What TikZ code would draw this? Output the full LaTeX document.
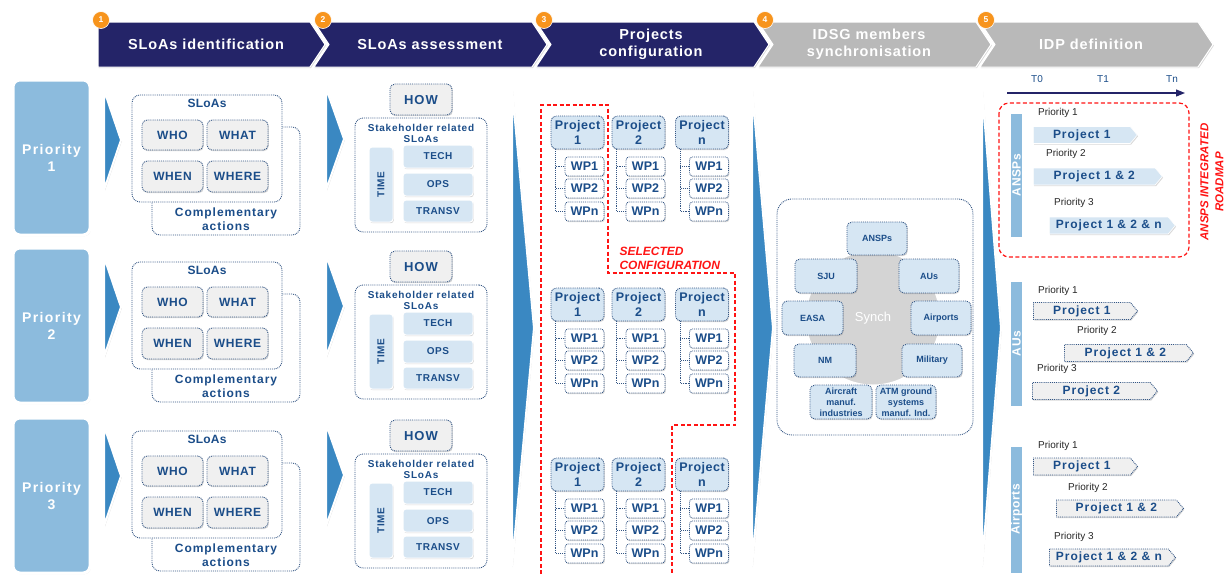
\documentclass[tikz,border=0pt]{standalone}
\usepackage{fontspec}
\setmainfont{Liberation Sans}
\usepackage{tikz}
\usetikzlibrary{calc, shadows, shapes.symbols, arrows.meta}

\definecolor{hdrnavy}{RGB}{36,36,104}
\definecolor{hdrgrey}{RGB}{185,185,185}
\definecolor{numorange}{RGB}{247,148,29}
\definecolor{prioblue}{RGB}{140,187,221}
\definecolor{triblue}{RGB}{58,136,194}
\definecolor{txtblue}{RGB}{27,77,137}
\definecolor{dotblue}{RGB}{52,86,132}
\definecolor{boxgrey}{RGB}{240,240,240}
\definecolor{boxblue}{RGB}{214,230,243}
\definecolor{synchgrey}{RGB}{212,212,212}
\definecolor{selred}{RGB}{255,20,20}

\newcommand{\fsz}[2]{\fontsize{#1}{#2}\selectfont}
\newcommand{\lsp}[1]{\addfontfeature{LetterSpace=#1}}

\begin{document}
\begin{tikzpicture}[x=1pt, y=-1pt,
	boxshadow/.style={drop shadow={opacity=0.3, shadow xshift=0.8pt, shadow yshift=-1.2pt}},
	chev/.style={draw=white, line width=1pt, boxshadow},
	chevtxt/.style={text=white, align=center, font=\fsz{14.5}{17}\bfseries\lsp{6}},
	stepnum/.style={circle, fill=numorange, draw=white, line width=0.6pt, text=white, inner sep=0pt, minimum size=17pt, font=\fsz{8.5}{9}\bfseries},
	prio/.style={rectangle, rounded corners=7pt, fill=prioblue, draw=white, line width=3pt, minimum width=77pt, minimum height=155pt, text=white, align=center, font=\fsz{14}{17}\bfseries\lsp{10}, boxshadow},
	pointer/.style={fill=triblue, draw=white, line width=2pt, line join=miter, boxshadow},
	frame/.style={rectangle, rounded corners=8pt, fill=white, draw=dotblue, densely dotted, line width=0.9pt},
	frametxt/.style={text=txtblue, align=center, font=\fsz{12}{14}\bfseries\lsp{8}},
	greybox/.style={rectangle, rounded corners=5pt, fill=boxgrey, draw=dotblue, densely dotted, line width=0.9pt, text=txtblue, inner sep=0pt, font=\fsz{12}{14}\bfseries\lsp{5}, boxshadow},
	bluebox/.style={rectangle, rounded corners=3pt, fill=boxblue, draw=white, line width=1pt, text=txtblue, inner sep=0pt, font=\fsz{10}{12}\bfseries\lsp{5}, boxshadow},
	prjbox/.style={rectangle, rounded corners=5pt, fill=boxblue, draw=dotblue, densely dotted, line width=0.9pt, text=txtblue, align=center, inner sep=0pt, minimum width=53pt, minimum height=33pt, font=\fsz{12.5}{14.5}\bfseries\lsp{4}, boxshadow},
	wpbox/.style={rectangle, rounded corners=3pt, fill=white, draw=dotblue, densely dotted, line width=0.9pt, text=txtblue, inner sep=0pt, minimum width=39pt, minimum height=19pt, font=\fsz{12.5}{14}\bfseries, boxshadow},
	tree/.style={draw=dotblue, densely dotted, line width=0.9pt},
	actor/.style={rectangle, rounded corners=5pt, fill=boxblue, draw=dotblue, densely dotted, line width=0.9pt, text=txtblue, align=center, inner sep=0pt, minimum height=34pt, font=\fsz{9}{11}\bfseries, boxshadow},
	selline/.style={draw=selred, dash pattern=on 4pt off 2.5pt, line width=1.2pt},
	seltxt/.style={text=selred, align=left, font=\fsz{12}{14}\bfseries\itshape},
	bar/.style={rectangle, fill=prioblue, draw=white, line width=3pt, rotate=90, minimum height=14pt, inner sep=0pt, text=white, font=\fsz{12}{13}\bfseries\lsp{5}, boxshadow},
	plain/.style={anchor=west, inner sep=0pt, text=black!85, font=\fsz{10}{12}},
	roadarrow/.style={signal, signal to=east, signal pointer angle=100, anchor=west, inner sep=0pt, minimum height=17pt, text=txtblue, font=\fsz{12}{14}\bfseries\lsp{8}, boxshadow},
	solidarrow/.style={roadarrow, fill=boxblue, draw=white, line width=0.6pt},
	dotarrow/.style={roadarrow, fill=boxgrey, draw=dotblue, densely dotted, line width=0.9pt}]

	\useasboundingbox (0,0) rectangle (1224,574);

	\def\yt{22}
	\def\yb{67}
	\def\ym{44.5}
	\def\tp{15}

	% header steps
	\path[fill=hdrnavy, chev] (98,\yt) -- (310,\yt) -- (310+\tp,\ym) -- (310,\yb) -- (98,\yb) -- cycle;
	\foreach \xa/\xb/\col in {314/532/hdrnavy, 536/754/hdrnavy, 758/976/hdrgrey, 980/1198/hdrgrey}
	{
		\path[fill=\col, chev] (\xa,\yt) -- (\xb,\yt) -- (\xb+\tp,\ym) -- (\xb,\yb) -- (\xa,\yb) -- (\xa+\tp,\ym) -- cycle;
	}
	\node[chevtxt] (hdr1) at (206,\ym) {SLoAs identification};
	\node[chevtxt] (hdr2) at (430,\ym) {SLoAs assessment};
	\node[chevtxt] (hdr3) at (651,\ym) {Projects\\configuration};
	\node[chevtxt] (hdr4) at (869,\ym) {IDSG members\\synchronisation};
	\node[chevtxt] (hdr5) at (1091,\ym) {IDP definition};
	\foreach \i/\xn in {1/101, 2/323, 3/544, 4/765, 5/986}
	{
		\node[stepnum] (num\i) at (\xn,20) {\i};
	}

	% big pointers between columns
	\draw[pointer] (512,88) -- (534,328) -- (512,566) -- cycle;
	\draw[pointer] (752,88) -- (773,328) -- (752,566) -- cycle;
	\draw[pointer] (982,88) -- (1001,328) -- (982,566) -- cycle;

	% one row per priority
	\foreach \r/\dy/\dp/\dq in {1/0/0/0, 2/167/172/168, 3/336/342/338}
	{
		\node[prio] (prio\r) at (51.5,157.5+\dq) {Priority\\\r};
		\draw[pointer] (104,90+\dy) -- (121,140+\dy) -- (104,190+\dy) -- cycle;
		\draw[pointer] (326,88+\dy) -- (344,139+\dy) -- (326,190+\dy) -- cycle;

		% SLoAs identification
		\node[frame, minimum width=148pt, minimum height=108pt] (compl\r) at (226,181+\dy) {};
		\node[frametxt] (compltxt\r) at (226,219+\dy) {Complementary\\actions};
		\node[frame, minimum width=150pt, minimum height=107pt] (sloas\r) at (207,148.5+\dy) {};
		\node[frametxt, font=\fsz{12}{14}\bfseries\lsp{2}] (sloastxt\r) at (207,103+\dy) {SLoAs};
		\node[greybox, minimum width=61pt, minimum height=30pt] (who\r) at (172.5,135+\dy) {WHO};
		\node[greybox, minimum width=61pt, minimum height=30pt] (what\r) at (237.5,135+\dy) {WHAT};
		\node[greybox, minimum width=61pt, minimum height=31pt] (when\r) at (172.5,176.5+\dy) {WHEN};
		\node[greybox, minimum width=61pt, minimum height=31pt] (where\r) at (237.5,176.5+\dy) {WHERE};

		% SLoAs assessment
		\node[greybox, minimum width=62pt, minimum height=31pt, font=\fsz{13}{15}\bfseries\lsp{8}] (how\r) at (421,99.5+\dy) {HOW};
		\node[frame, minimum width=132pt, minimum height=114pt] (stake\r) at (421,175+\dy) {};
		\node[frametxt, font=\fsz{10}{11}\bfseries\lsp{8}] (staketxt\r) at (421,133.5+\dy) {Stakeholder related\\SLoAs};
		\node[bluebox, rotate=90, minimum width=75pt, minimum height=24pt, font=\fsz{10}{11}\bfseries\lsp{5}] (time\r) at (381,184.5+\dy) {TIME};
		\node[bluebox, minimum width=70pt, minimum height=23pt] (tech\r) at (438,156.5+\dy) {TECH};
		\node[bluebox, minimum width=70pt, minimum height=23pt] (ops\r) at (438,184.5+\dy) {OPS};
		\node[bluebox, minimum width=70pt, minimum height=22pt] (transv\r) at (438,211+\dy) {TRANSV};

		% projects configuration
		\foreach \c/\px in {1/577.5, 2/638.5, n/702}
		{
			\node[prjbox] (prj\c\r) at (\px,132.5+\dp) {Project\\\c};
			\foreach \k/\wy in {1/166.5, 2/188.5, n/211.5}
			{
				\node[wpbox] (wp\k\c\r) at (\px+7,\wy+\dp) {WP\k};
				\draw[tree] ($(prj\c\r.south west)+(5,0)$) |- (wp\k\c\r.west);
			}
		}
	}

	% selected configuration
	\draw[selline] (541,574) -- (541,105) -- (608,105) -- (608,273) -- (735,273) -- (735,425) -- (672,425) -- (672,574);
	\node[seltxt, anchor=west] (selected) at (616,258) {SELECTED\\CONFIGURATION};

	% IDSG members synchronisation
	\node[frame, rounded corners=15pt, minimum width=196pt, minimum height=236pt] (idsg) at (875,317) {};
	\node[circle, fill=synchgrey, draw=white, line width=3pt, minimum size=136pt, text=white, font=\fsz{13}{15}] (synch) at (873,318) {Synch};
	\node[actor, minimum width=60pt, minimum height=33pt] (ansps) at (877,238.5) {ANSPs};
	\node[actor, minimum width=62pt] (sju) at (826,276) {SJU};
	\node[actor, minimum width=60pt] (aus) at (929,276) {AUs};
	\node[actor, minimum width=61pt] (easa) at (812.5,318) {EASA};
	\node[actor, minimum width=60pt] (airports) at (941,318) {Airports};
	\node[actor, minimum width=62pt, minimum height=33pt] (nm) at (825,360.5) {NM};
	\node[actor, minimum width=60pt, minimum height=33pt] (military) at (932,360.5) {Military};
	\node[actor, minimum width=62pt] (aircraft) at (841,402) {Aircraft\\manuf.\\industries};
	\node[actor, minimum width=60pt] (atm) at (906,402) {ATM ground\\systems\\manuf. Ind.};

	% IDP definition
	\node[text=txtblue, font=\fsz{10}{11}] (t0) at (1037,79) {T0};
	\node[text=txtblue, font=\fsz{10}{11}] (t1) at (1103,79) {T1};
	\node[text=txtblue, font=\fsz{10}{11}] (tn) at (1172,79) {Tn};
	\coordinate (tstart) at (1007,93);
	\coordinate (tend) at (1185,93);
	\draw[hdrnavy, line width=1.2pt, -{Triangle[length=9pt, width=7pt]}] (tstart) -- (tend);

	\draw[selline, rounded corners=10pt] (999,103) rectangle (1189,257);
	\node[seltxt, rotate=90, align=center, font=\fsz{11.5}{15}\bfseries\itshape] (roadmap) at (1212,182) {ANSPS INTEGRATED\\ROADMAP};

	\node[bar, minimum width=126pt] (baransps) at (1016.5,175) {ANSPs};
	\node[plain] (pa1) at (1038,113) {Priority 1};
	\node[solidarrow, minimum width=104pt] (ra1) at (1033,135) {Project 1};
	\node[plain] (pa2) at (1046,154) {Priority 2};
	\node[solidarrow, minimum width=129pt] (ra2) at (1033,176.5) {Project 1 \& 2};
	\node[plain] (pa3) at (1054,203) {Priority 3};
	\node[solidarrow, minimum width=126pt] (ra3) at (1049,225.5) {Project 1 \& 2 \& n};

	\node[bar, minimum width=127pt] (baraus) at (1016.5,343.5) {AUs};
	\node[plain] (pu1) at (1038,291) {Priority 1};
	\node[dotarrow, minimum width=104pt] (ru1) at (1033,311) {Project 1};
	\node[plain] (pu2) at (1077,331) {Priority 2};
	\node[dotarrow, minimum width=129pt] (ru2) at (1064,353) {Project 1 \& 2};
	\node[plain] (pu3) at (1037,369) {Priority 3};
	\node[dotarrow, minimum width=125pt] (ru3) at (1032,391) {Project 2};

	\node[bar, minimum width=129pt] (barairports) at (1016.5,509.5) {Airports};
	\node[plain] (pp1) at (1038,446) {Priority 1};
	\node[dotarrow, minimum width=104pt] (rp1) at (1033,466.5) {Project 1};
	\node[plain] (pp2) at (1068,488) {Priority 2};
	\node[dotarrow, minimum width=127pt] (rp2) at (1056,508.5) {Project 1 \& 2};
	\node[plain] (pp3) at (1054,537) {Priority 3};
	\node[dotarrow, minimum width=126pt] (rp3) at (1049,557.5) {Project 1 \& 2 \& n};
\end{tikzpicture}
\end{document}
